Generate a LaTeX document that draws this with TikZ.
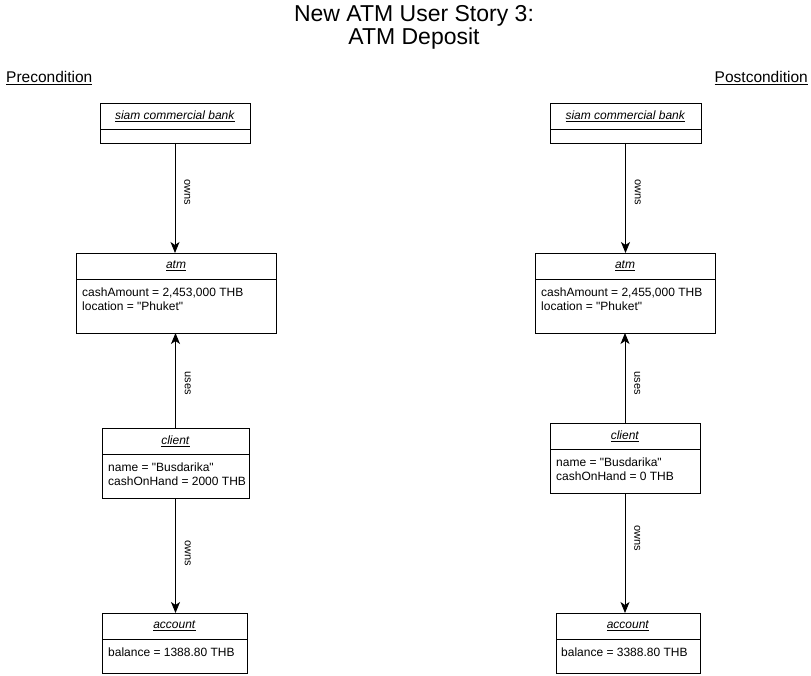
\documentclass[tikz,border=0pt]{standalone}
\usepackage{fontspec}
\setmainfont{Liberation Sans}[Ligatures=TeXOff]
\usepackage{tikz}
\usetikzlibrary{positioning,arrows.meta}
\newcommand{\objname}[1]{\underline{\textit{#1}}}
\tikzset{objhead/.style={draw,line width=0.9pt,inner sep=0pt,outer sep=0pt,minimum height=26pt,font=\fontsize{12}{14}\selectfont},
  objbody/.style={draw,line width=0.9pt,inner sep=0pt,outer sep=0pt,below=0pt of #1},
  attr/.style={inner sep=0pt,align=left,anchor=north west,font=\fontsize{12}{14}\selectfont},
  link/.style={line width=0.9pt,-{Stealth[length=11pt,width=9pt,inset=3pt]}},
  linklbl/.style={rotate=-90,anchor=south,outer sep=6pt,font=\fontsize{11}{13}\selectfont} }

\begin{document}
\begin{tikzpicture}[x=1pt,y=-1pt]
    \useasboundingbox (0,0) rectangle (811,676);
    \node[align=center,font=\fontsize{23}{23}\selectfont] (title) at (414,27) {New ATM User Story 3:\\ATM Deposit};
    \node[anchor=base west,inner sep=0pt,font=\fontsize{15.5}{18}\selectfont] (pre) at (6,83) {\underline{Precondition}};
    \node[anchor=base east,inner sep=0pt,font=\fontsize{15.5}{18}\selectfont] (post) at (808,83) {\underline{Postcondition}};
    % precondition
    \node[objhead,minimum width=150pt] (bankPre) at (175,116) {\objname{siam commercial bank}};
    \node[objbody=bankPre,minimum width=150pt,minimum height=14pt] (bankPreBody) {};
    \node[objhead,minimum width=200pt] (atmPre) at (176,266) {\objname{atm}};
    \node[objbody=atmPre,minimum width=200pt,minimum height=54pt] (atmPreBody) {};
    \node[attr,below right=9pt and 6pt of atmPreBody.north west] (atmPreAttr) {cashAmount = 2,453,000 THB\\location = "Phuket"};
    \node[objhead,minimum width=147pt] (clientPre) at (175.5,441) {\objname{client}};
    \node[objbody=clientPre,minimum width=147pt,minimum height=44pt] (clientPreBody) {};
    \node[attr,below right=9pt and 6pt of clientPreBody.north west] (clientPreAttr) {name = "Busdarika"\\cashOnHand = 2000 THB};
    \node[objhead,minimum width=145pt] (accountPre) at (174.5,626) {\objname{account}};
    \node[objbody=accountPre,minimum width=145pt,minimum height=34pt] (accountPreBody) {};
    \node[attr,below right=9pt and 6pt of accountPreBody.north west] (accountPreAttr) {balance = 1388.80 THB};
    \draw[link] (bankPreBody.south) -- node[linklbl,pos=.45] {owns} (bankPreBody.south |- atmPre.north);
    \draw[link] (clientPre.north) -- node[linklbl,pos=.47] {uses} (clientPre.north |- atmPreBody.south);
    \draw[link] (clientPreBody.south) -- node[linklbl,pos=.48] {owns} (clientPreBody.south |- accountPre.north);
    % postcondition
    \node[objhead,minimum width=151pt] (bankPost) at (625.5,116) {\objname{siam commercial bank}};
    \node[objbody=bankPost,minimum width=151pt,minimum height=14pt] (bankPostBody) {};
    \node[objhead,minimum width=180pt] (atmPost) at (625,266) {\objname{atm}};
    \node[objbody=atmPost,minimum width=180pt,minimum height=54pt] (atmPostBody) {};
    \node[attr,below right=9pt and 6pt of atmPostBody.north west] (atmPostAttr) {cashAmount = 2,455,000 THB\\location = "Phuket"};
    \node[objhead,minimum width=150pt] (clientPost) at (625,436) {\objname{client}};
    \node[objbody=clientPost,minimum width=150pt,minimum height=44pt] (clientPostBody) {};
    \node[attr,below right=9pt and 6pt of clientPostBody.north west] (clientPostAttr) {name = "Busdarika"\\cashOnHand = 0 THB};
    \node[objhead,minimum width=144pt] (accountPost) at (628,626) {\objname{account}};
    \node[objbody=accountPost,minimum width=144pt,minimum height=34pt] (accountPostBody) {};
    \node[attr,below right=9pt and 5pt of accountPostBody.north west] (accountPostAttr) {balance = 3388.80 THB};
    \draw[link] (bankPostBody.south) -- node[linklbl,pos=.45] {owns} (bankPostBody.south |- atmPost.north);
    \draw[link] (clientPost.north) -- node[linklbl,pos=.44] {uses} (clientPost.north |- atmPostBody.south);
    \draw[link] (clientPostBody.south) -- node[linklbl,pos=.375] {owns} (atmPost.south |- accountPost.north);
\end{tikzpicture}
\end{document}
